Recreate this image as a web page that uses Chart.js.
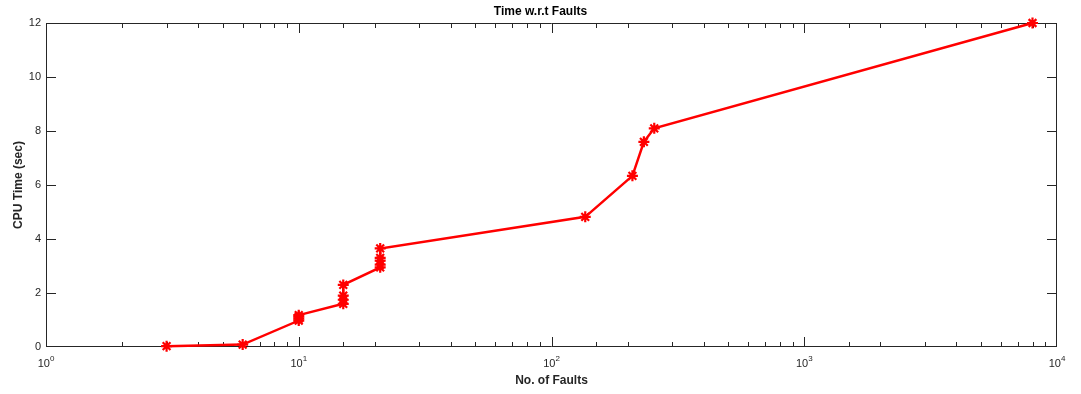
<!doctype html>
<html lang="en">
  <head>
    <meta charset="utf-8">
    <title>Time w.r.t Faults</title>
    <style>
    body { margin: 0; background: #fff; }
    </style>
  </head>
  <body>
    <canvas id="canvas" width="1081" height="394"></canvas>

    <script src="https://cdn.jsdelivr.net/npm/chart.js@4"></script>
    <script>
    // number of faults (x) and CPU time in seconds (y)
    const faults  = [3,    6,    10,   10,   10,   10,   15,  15,   15,  15,  21,   21,   21,  21,  21,   136,  209,  232,  255,  8000];
    const cpuTime = [0.03, 0.09, 0.98, 1.05, 1.12, 1.18, 1.6, 1.75, 1.9, 2.3, 2.95, 3.05, 3.2, 3.3, 3.65, 4.82, 6.34, 7.6, 8.1, 12];
    const yTicks = [0, 2, 4, 6, 8, 10, 12];

    const axisColor = '#262626';
    const font = 'Liberation Sans, Arial, Helvetica, sans-serif';

    const isDecade = v => {
      const e = Math.log10(v);
      return Math.abs(e - Math.round(e)) < 1e-9;
    };

    // matlab style box with inward ticks on all four sides
    const boxTicks = {
      id: 'boxTicks',
      beforeDatasetsDraw(chart) {
        const {ctx, chartArea: a, scales: {x, y}} = chart;
        ctx.save();
        ctx.strokeStyle = axisColor;
        ctx.lineWidth = 1;
        ctx.beginPath();
        ctx.rect(a.left + 0.5, a.top + 0.5, a.right - a.left - 1, a.bottom - a.top - 1);
        x.ticks.forEach(t => {
          let px = Math.round(x.getPixelForValue(t.value)) + 0.5;
          px = Math.min(Math.max(px, a.left + 0.5), a.right - 0.5);
          const len = isDecade(t.value) ? 10 : 5;
          ctx.moveTo(px, a.bottom); ctx.lineTo(px, a.bottom - len);
          ctx.moveTo(px, a.top); ctx.lineTo(px, a.top + len);
        });
        y.ticks.forEach(t => {
          let py = Math.round(y.getPixelForValue(t.value)) + 0.5;
          py = Math.min(Math.max(py, a.top + 0.5), a.bottom - 0.5);
          ctx.moveTo(a.left, py); ctx.lineTo(a.left + 10, py);
          ctx.moveTo(a.right, py); ctx.lineTo(a.right - 10, py);
        });
        ctx.stroke();

        // decade labels 10^n with a raised exponent
        ctx.fillStyle = axisColor;
        ctx.textBaseline = 'alphabetic';
        x.ticks.filter(t => isDecade(t.value)).forEach(t => {
          const px = x.getPixelForValue(t.value);
          const exp = String(Math.round(Math.log10(t.value)));
          ctx.font = '11px ' + font;
          const wBase = ctx.measureText('10').width;
          ctx.font = '8px ' + font;
          const wExp = ctx.measureText(exp).width;
          const start = px - (wBase + wExp) / 2;
          ctx.font = '11px ' + font;
          ctx.fillText('10', start, a.bottom + 20);
          ctx.font = '8px ' + font;
          ctx.fillText(exp, start + wBase, a.bottom + 14);
        });
        ctx.restore();
      }
    };

    new Chart(document.getElementById('canvas').getContext('2d'), {
      type: 'scatter',
      data: {
        datasets: [{
          data: faults.map((f, i) => ({x: f, y: cpuTime[i]})),
          showLine: true,
          borderColor: '#ff0000',
          backgroundColor: '#ff0000',
          borderWidth: 2.5,
          tension: 0,
          pointStyle: 'star',
          pointRadius: 5.5,
          pointBorderWidth: 2.2,
          pointBorderColor: '#ff0000',
          clip: false
        }]
      },
      options: {
        responsive: false,
        animation: false,
        layout: { padding: 0 },
        plugins: {
          legend: { display: false },
          tooltip: { enabled: false },
          title: {
            display: true,
            text: 'Time w.r.t Faults',
            color: '#000',
            font: { family: font, size: 12, weight: 'bold' },
            padding: { top: 4, bottom: 4.6 }
          }
        },
        scales: {
          x: {
            type: 'logarithmic',
            min: 1,
            max: 10000,
            grid: { display: false, drawTicks: false },
            border: { display: false },
            ticks: { display: false, autoSkip: false },
            title: {
              display: true,
              text: 'No. of Faults',
              color: axisColor,
              font: { family: font, size: 12, weight: 'bold' },
              padding: { top: 0, bottom: 6 }
            },
            afterFit: s => { s.height = 47; }
          },
          y: {
            min: 0,
            max: 12,
            afterBuildTicks: s => { s.ticks = yTicks.map(v => ({value: v})); },
            grid: { display: false, drawTicks: false },
            border: { display: false },
            ticks: {
              color: axisColor,
              padding: 5,
              font: { family: font, size: 11 }
            },
            title: {
              display: true,
              text: 'CPU Time (sec)',
              color: axisColor,
              font: { family: font, size: 12, weight: 'bold' },
              padding: { top: 11, bottom: 0 }
            },
            afterFit: s => { s.width = 46; }
          },
          // empty right axis, only keeps the right margin
          y2: {
            position: 'right',
            min: 0,
            max: 12,
            grid: { display: false, drawTicks: false },
            border: { display: false },
            ticks: { display: false },
            afterFit: s => { s.width = 24; }
          }
        }
      },
      plugins: [boxTicks]
    });
    </script>
  </body>
</html>
